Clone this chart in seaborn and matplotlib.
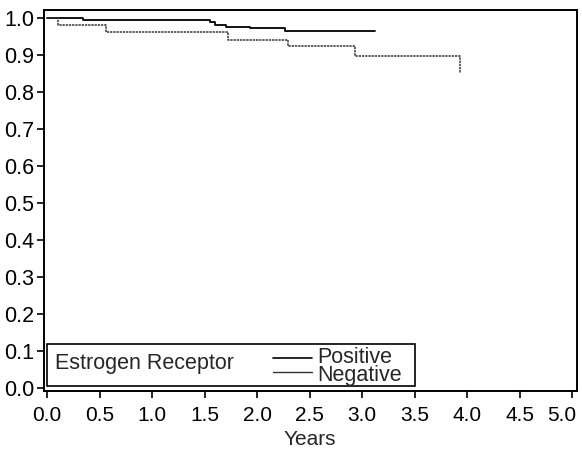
import numpy as np
import pandas as pd
import seaborn as sns
import matplotlib.pyplot as plt
import matplotlib.transforms as mtransforms
from matplotlib.patches import Rectangle
from matplotlib.lines import Line2D

# survival curves (step points, steps-post)
pos_years = [0.0, 0.34, 1.55, 1.60, 1.70, 1.93, 2.26, 3.12]
pos_surv = [1.0, 0.996, 0.990, 0.982, 0.977, 0.974, 0.966, 0.966]
neg_years = [0.0, 0.10, 0.56, 1.72, 2.29, 2.93, 3.93]
neg_surv = [1.0, 0.982, 0.964, 0.942, 0.924, 0.898, 0.853]

x_ticks = [0.0, 0.5, 1.0, 1.5, 2.0, 2.5, 3.0, 3.5, 4.0, 4.5, 5.0]
y_ticks = [0.0, 0.1, 0.2, 0.3, 0.4, 0.5, 0.6, 0.7, 0.8, 0.9, 1.0]

df = pd.concat([
    pd.DataFrame({"years": pos_years, "surv": pos_surv, "er": "Positive"}),
    pd.DataFrame({"years": neg_years, "surv": neg_surv, "er": "Negative"}),
])

sns.set_style("white")
plt.rcParams["font.family"] = ["Liberation Sans", "DejaVu Sans"]

fig = plt.figure(figsize=(5.82, 4.58), dpi=100)
ax = fig.add_axes([0.0756, 0.146, 0.915, 0.832])

sns.lineplot(data=df[df.er == "Positive"], x="years", y="surv", drawstyle="steps-post",
             estimator=None, sort=False, color="black", linewidth=1.3, ax=ax, legend=False)
sns.lineplot(data=df[df.er == "Negative"], x="years", y="surv", drawstyle="steps-post",
             estimator=None, sort=False, color="#333333", linewidth=1.1, linestyle=(0, (1.5, 0.6)),
             ax=ax, legend=False)

ax.set_xlim(-0.03, 5.04)
ax.set_ylim(-0.008, 1.022)
ax.set_xticks(x_ticks)
ax.set_yticks(y_ticks)
ax.set_xticklabels([f"{v:.1f}" for v in x_ticks])
ax.set_yticklabels([f"{v:.1f}" for v in y_ticks])
ax.tick_params(axis="x", direction="out", length=5, width=1.2, labelsize=15,
               bottom=True, pad=6, colors="black")
ax.tick_params(axis="y", direction="out", length=5, width=1.2, labelsize=15.5,
               left=True, pad=2, colors="black")
# last x label is pushed left so it stays inside the picture, like the original
last = ax.get_xticklabels()[-1]
last.set_horizontalalignment("right")
last.set_transform(last.get_transform() + mtransforms.ScaledTranslation(4 / 100, 0, fig.dpi_scale_trans))

ax.set_xlabel("Years", fontsize=15, labelpad=3)
ax.set_ylabel("")
for s in ax.spines.values():
    s.set_color("black")
    s.set_linewidth(1.4)

# boxed legend in the lower left, drawn like the original
ax.add_patch(Rectangle((0.006, 0.013), 0.69, 0.11, transform=ax.transAxes,
                       fill=False, edgecolor="black", linewidth=1.2))
ax.text(0.021, 0.073, "Estrogen Receptor", transform=ax.transAxes, fontsize=15.5, va="center")
ax.add_line(Line2D([0.43, 0.503], [0.087, 0.087], transform=ax.transAxes, color="black", linewidth=1.2))
ax.add_line(Line2D([0.43, 0.503], [0.05, 0.05], transform=ax.transAxes, color="#333333", linewidth=1.0))
ax.text(0.514, 0.087, "Positive", transform=ax.transAxes, fontsize=15.5, va="center")
ax.text(0.514, 0.04, "Negative", transform=ax.transAxes, fontsize=15.5, va="center")

fig.savefig("out.png", dpi=100)
